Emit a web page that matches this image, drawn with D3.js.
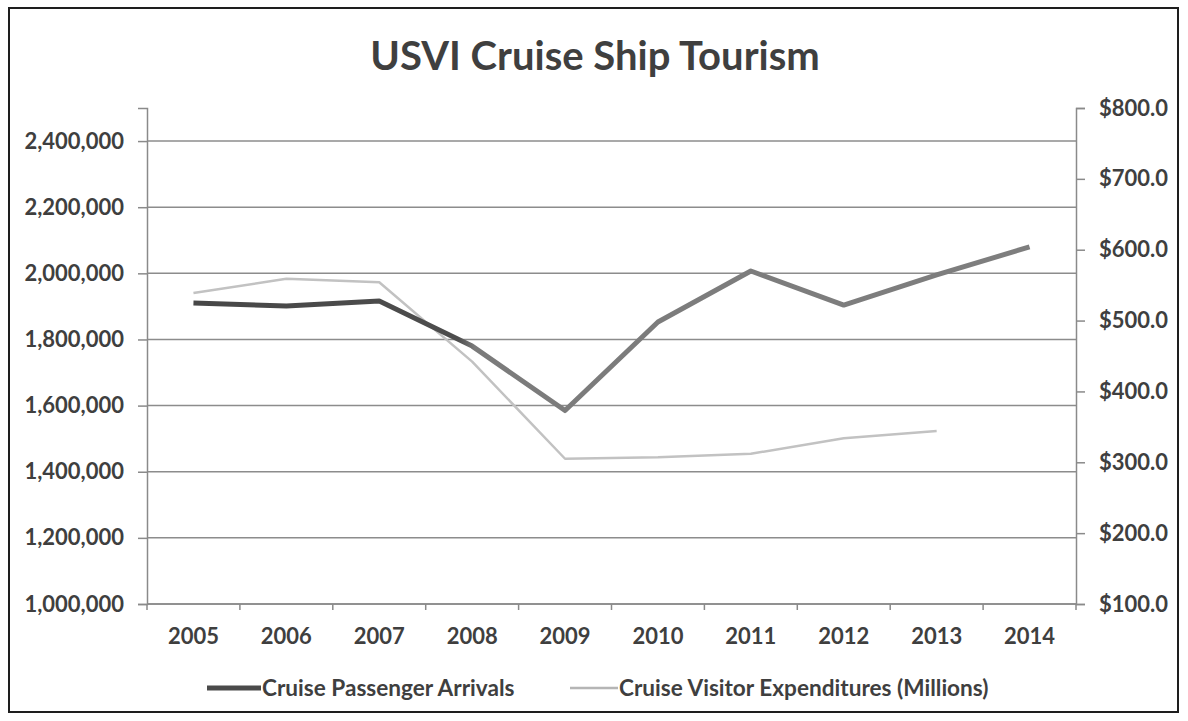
<!DOCTYPE html>
<html>
<head>
<meta charset="utf-8">
<script src="https://cdn.jsdelivr.net/npm/d3@7/dist/d3.min.js"></script>
<style>
  html, body { margin: 0; padding: 0; background: #fff; }
  svg { display: block; }
  text { font-family: Lato, "Open Sans", sans-serif; font-weight: 700; fill: #3f3f3f; }
</style>
</head>
<body>
<svg id="chart" width="1188" height="721"></svg>
<script>
// Cruise ship tourism, U.S. Virgin Islands
const years = ["2005", "2006", "2007", "2008", "2009", "2010", "2011", "2012", "2013", "2014"];
const arrivals = [1910000, 1901000, 1916000, 1780000, 1585000, 1853000, 2007000, 1904000, 1995000, 2080000];
// expenditures in millions of dollars; 2014 not reported
const expenditures = [539, 559, 554, 442, 305, 307, 312, 334, 344, null];
const leftTicks = [1000000, 1200000, 1400000, 1600000, 1800000, 2000000, 2200000, 2400000];
const rightTicks = [100, 200, 300, 400, 500, 600, 700, 800];
const seriesNames = ["Cruise Passenger Arrivals", "Cruise Visitor Expenditures (Millions)"];

const svg = d3.select("#chart");
const W = 1188, H = 721;
const plot = { left: 147, right: 1076, top: 108, bottom: 604 };
const labelSize = 22;

// outer frame
svg.append("rect")
  .attr("x", 9).attr("y", 8).attr("width", W - 19).attr("height", H - 17)
  .attr("fill", "#fff").attr("stroke", "#1e1e1e").attr("stroke-width", 2);

const x = d3.scaleBand().domain(years).range([plot.left, plot.right]);
const yL = d3.scaleLinear().domain([1000000, 2500000]).range([plot.bottom, plot.top]);
const yR = d3.scaleLinear().domain([100, 800]).range([plot.bottom, plot.top]);

// title
svg.append("text")
  .attr("x", 595).attr("y", 70)
  .attr("text-anchor", "middle")
  .attr("font-size", 40)
  .attr("font-weight", 900)
  .text("USVI Cruise Ship Tourism");

// horizontal gridlines from the primary axis
svg.append("g")
  .selectAll("line")
  .data(leftTicks)
  .join("line")
  .attr("x1", plot.left).attr("x2", plot.right)
  .attr("y1", d => yL(d)).attr("y2", d => yL(d))
  .attr("stroke", "#8c8c8c").attr("stroke-width", 1.5);

// left axis
const fmtL = d3.format(",");
const gL = svg.append("g")
  .attr("transform", `translate(${plot.left},0)`)
  .call(d3.axisLeft(yL).tickValues(leftTicks).tickFormat(fmtL).tickSize(9).tickPadding(14));
gL.select(".domain").attr("stroke", "#8a8a8a").attr("stroke-width", 1.5);
gL.selectAll(".tick line").attr("stroke", "#8a8a8a").attr("stroke-width", 1.5);
gL.selectAll(".tick text").attr("font-size", labelSize).attr("fill", "#3f3f3f")
  .attr("font-family", "Lato, sans-serif").attr("font-weight", 700);

// right axis
const fmtR = v => "$" + d3.format(".1f")(v);
const gR = svg.append("g")
  .attr("transform", `translate(${plot.right},0)`)
  .call(d3.axisRight(yR).tickValues(rightTicks).tickFormat(fmtR).tickSize(9).tickPadding(14));
gR.select(".domain").attr("stroke", "#8a8a8a").attr("stroke-width", 1.5);
gR.selectAll(".tick line").attr("stroke", "#8a8a8a").attr("stroke-width", 1.5);
gR.selectAll(".tick text").attr("font-size", labelSize).attr("fill", "#3f3f3f")
  .attr("font-family", "Lato, sans-serif").attr("font-weight", 700);

// category axis: ticks at band boundaries, labels at band centres
const gX = svg.append("g").attr("transform", `translate(0,${plot.bottom})`);
gX.append("line")
  .attr("x1", plot.left).attr("x2", plot.right)
  .attr("stroke", "#8a8a8a").attr("stroke-width", 1.5);
gX.selectAll("line.tk")
  .data(years.concat(["end"]))
  .join("line").attr("class", "tk")
  .attr("x1", (d, i) => plot.left + i * x.bandwidth())
  .attr("x2", (d, i) => plot.left + i * x.bandwidth())
  .attr("y1", 0).attr("y2", 6)
  .attr("stroke", "#8a8a8a").attr("stroke-width", 1.5);
gX.selectAll("text")
  .data(years)
  .join("text")
  .attr("x", d => x(d) + x.bandwidth() / 2)
  .attr("y", 40)
  .attr("text-anchor", "middle")
  .attr("font-size", labelSize)
  .text(d => d);

const cx = d => x(d) + x.bandwidth() / 2;

// arrivals line shading: darker through 2008, lighter after
const grad = svg.append("defs").append("linearGradient")
  .attr("id", "arrGrad").attr("gradientUnits", "userSpaceOnUse")
  .attr("x1", cx("2005")).attr("x2", cx("2014")).attr("y1", 0).attr("y2", 0);
const stopAt = (cx("2008") - 14 - cx("2005")) / (cx("2014") - cx("2005"));
grad.append("stop").attr("offset", 0).attr("stop-color", "#474747");
grad.append("stop").attr("offset", stopAt).attr("stop-color", "#4d4d4d");
grad.append("stop").attr("offset", stopAt + 0.02).attr("stop-color", "#7b7b7b");
grad.append("stop").attr("offset", 1).attr("stop-color", "#7e7e7e");

// expenditures (secondary axis)
const lineR = d3.line()
  .defined(d => d.v != null)
  .x(d => cx(d.year))
  .y(d => yR(d.v));
svg.append("path")
  .datum(years.map((year, i) => ({ year, v: expenditures[i] })))
  .attr("d", lineR)
  .attr("fill", "none")
  .attr("stroke", "#c2c2c2")
  .attr("stroke-width", 2.5)
  .attr("stroke-linejoin", "round");

// arrivals (primary axis)
const lineL = d3.line()
  .x(d => cx(d.year))
  .y(d => yL(d.v));
svg.append("path")
  .datum(years.map((year, i) => ({ year, v: arrivals[i] })))
  .attr("d", lineL)
  .attr("fill", "none")
  .attr("stroke", "url(#arrGrad)")
  .attr("stroke-width", 5)
  .attr("stroke-linejoin", "round");

// legend
const legend = svg.append("g").attr("transform", "translate(0,688)");
const items = [
  { name: seriesNames[0], x0: 207, x1: 261, color: "#4a4a4a", w: 5 },
  { name: seriesNames[1], x0: 570, x1: 618, color: "#b5b5b5", w: 2.5 }
];
items.forEach(it => {
  legend.append("line")
    .attr("x1", it.x0).attr("x2", it.x1)
    .attr("y1", 0).attr("y2", 0)
    .attr("stroke", it.color).attr("stroke-width", it.w);
  legend.append("text")
    .attr("x", it.x1 + 1).attr("y", 8)
    .attr("font-size", 22.6)
    .text(it.name);
});
</script>
</body>
</html>
